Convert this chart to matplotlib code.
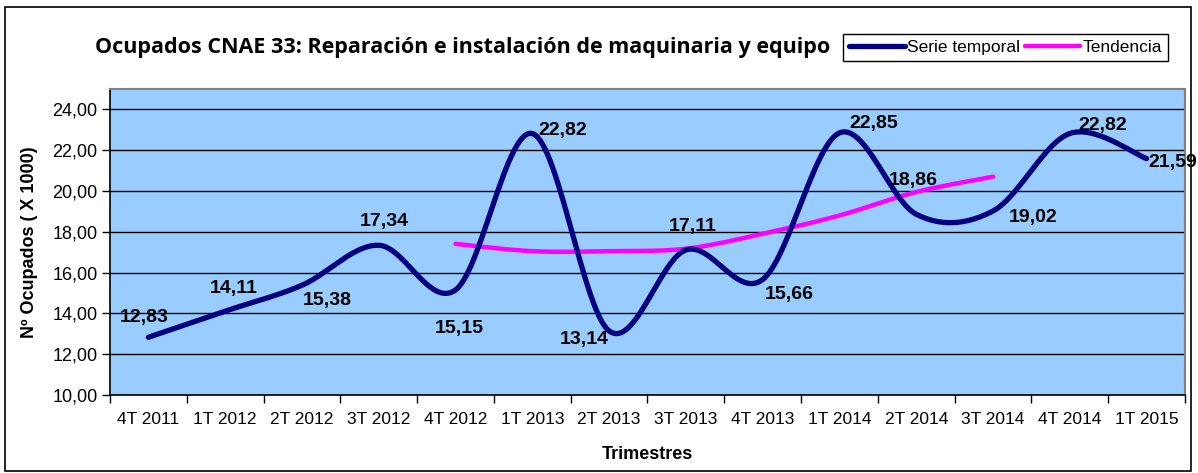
import numpy as np
import matplotlib.pyplot as plt
from matplotlib.patches import Rectangle

# datos
trimestres = ["4T 2011", "1T 2012", "2T 2012", "3T 2012", "4T 2012", "1T 2013", "2T 2013",
              "3T 2013", "4T 2013", "1T 2014", "2T 2014", "3T 2014", "4T 2014", "1T 2015"]
serie = [12.83, 14.11, 15.38, 17.34, 15.15, 22.82, 13.14, 17.11, 15.66, 22.85, 18.86, 19.02, 22.82, 21.59]
tendencia_idx = [4, 5, 6, 7, 8, 9, 10, 11]
tendencia = [17.41, 17.05, 17.05, 17.17, 17.9, 18.8, 19.95, 20.7]

# desplazamiento de las etiquetas (puntos)
offsets = [(-3, 14), (6, 16), (18, -11), (4, 17), (3, -28), (22, 2), (-18, -6), (5, 17),
           (19, -11), (25, 7), (-2, 24), (29, -5), (24, 6), (19, -3)]


def suavizar(x, y, n=30):
    # curva tipo Excel (Bezier / Catmull-Rom)
    x = np.asarray(x, float)
    y = np.asarray(y, float)
    px = np.concatenate([[x[0]], x, [x[-1]]])
    py = np.concatenate([[y[0]], y, [y[-1]]])
    xs, ys = [], []
    t = np.linspace(0, 1, n)
    for i in range(1, len(px) - 2):
        p0 = np.array([px[i], py[i]])
        p3 = np.array([px[i + 1], py[i + 1]])
        c1 = p0 + (np.array([px[i + 1], py[i + 1]]) - np.array([px[i - 1], py[i - 1]])) / 6
        c2 = p3 - (np.array([px[i + 2], py[i + 2]]) - np.array([px[i], py[i]])) / 6
        b = ((1 - t) ** 3)[:, None] * p0 + (3 * (1 - t) ** 2 * t)[:, None] * c1 \
            + (3 * (1 - t) * t ** 2)[:, None] * c2 + (t ** 3)[:, None] * p3
        xs.extend(b[:, 0])
        ys.extend(b[:, 1])
    return xs, ys


plt.rcParams['font.family'] = ['Liberation Sans', 'DejaVu Sans']

fig = plt.figure(figsize=(11.98, 4.73), dpi=100)
ax = fig.add_axes([110 / 1198, 1 - 395 / 473, 1075 / 1198, 306 / 473])
ax.set_facecolor('#99CCFF')

x = np.arange(len(trimestres))
sx, sy = suavizar(x, serie)
ax.plot(sx, sy, color='#000080', lw=3.8, solid_capstyle='round', zorder=3, label='Serie temporal')
tx, ty = suavizar(tendencia_idx, tendencia)
ax.plot(tx, ty, color='#FF00FF', lw=3.2, solid_capstyle='round', zorder=2, label='Tendencia')

for i, v in enumerate(serie):
    ax.annotate(f"{v:.2f}".replace('.', ','), (x[i], v), xytext=offsets[i], textcoords='offset points',
                ha='center', va='center', fontsize=14, fontweight='bold', zorder=4, annotation_clip=False)

ax.set_xlim(-0.5, len(trimestres) - 0.5)
ax.set_ylim(10, 25)
ax.set_yticks(np.arange(10, 25, 2))
ax.set_yticklabels([f"{v:.2f}".replace('.', ',') for v in np.arange(10, 25, 2)], fontsize=13)
ax.yaxis.grid(True, color='black', lw=1)
ax.set_axisbelow(True)
ax.set_xticks(x)
ax.set_xticklabels(trimestres, fontsize=12.5)
ax.set_xticks(np.arange(-0.5, len(trimestres)), minor=True)
ax.tick_params(axis='x', which='major', length=0, pad=12)
ax.tick_params(axis='x', which='minor', length=6, width=1, direction='out')
ax.tick_params(axis='y', length=6, width=1, direction='out', pad=3)
for s in ['top', 'right']:
    ax.spines[s].set_color('#808080')
    ax.spines[s].set_linewidth(1.5)
for s in ['left', 'bottom']:
    ax.spines[s].set_color('black')
    ax.spines[s].set_linewidth(1.2)

ax.set_xlabel("Trimestres", fontsize=13, fontweight='bold', labelpad=14)
ax.set_ylabel("Nº Ocupados ( X 1000)", fontsize=13, fontweight='bold', labelpad=10)

fig.text(0.3858, 0.9006, "Ocupados CNAE 33: Reparación e instalación de maquinaria y equipo",
         ha='center', va='center', fontsize=15.5, fontweight='bold', family=['Open Sans', 'DejaVu Sans'])

leg = fig.legend(loc='center', bbox_to_anchor=(0.8393, 0.8996), ncol=2, fancybox=False,
                 edgecolor='black', framealpha=1, fontsize=12.5, handlelength=3.2,
                 handletextpad=0.1, columnspacing=0.3, borderpad=0.35, borderaxespad=0)
leg.get_frame().set_linewidth(1)

fig.patches.append(Rectangle((5 / 1198, 2 / 473), 1186 / 1198, 464 / 473, transform=fig.transFigure,
                             fill=False, edgecolor='black', lw=1.2))

fig.savefig('out.png', dpi=100)
